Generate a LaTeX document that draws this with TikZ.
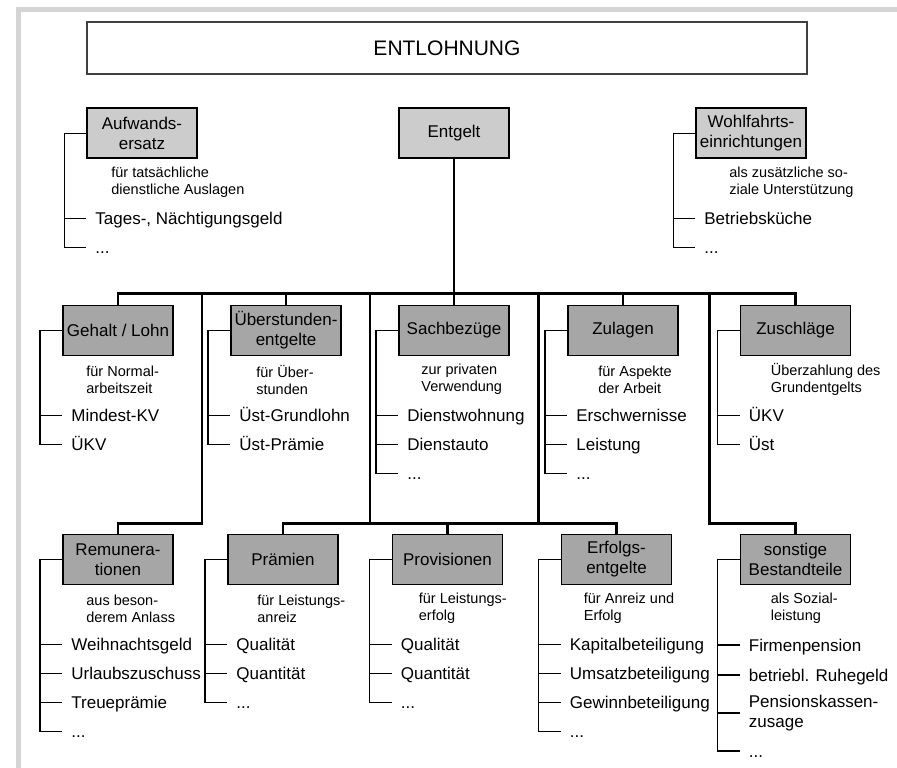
\documentclass[tikz,border=0pt]{standalone}
\usepackage{fontspec}
\setmainfont{Liberation Sans}
\usepackage{tikz}
\usetikzlibrary{calc,positioning}
\definecolor{framegray}{HTML}{D4D4D4}
\definecolor{titleline}{HTML}{404040}
\definecolor{lightbox}{HTML}{CCCCCC}
\definecolor{darkbox}{HTML}{A6A6A6}
% dots as one token, so that \foreach does not read them as a range
\newcommand{\pkt}{...}
% one branch: box, note below it, items hanging on a bracket
\newcommand{\zweig}[5][bracket]{%
  \node[note] (#2-note) at ($(#2.west)+(#3,49)$) {#4};
  \foreach \eintrag [count=\nr] in {#5}{
    \node[item] (#2-\nr) at ($(#2.west)+(0,56+29*\nr)$) {\eintrag};
    \draw[#1] (#2.west) -- ++(-22,0) |- (#2-\nr.west);
  }%
}

\begin{document}
\begin{tikzpicture}[x=1pt,y=-1pt,
  box/.style={draw=black,line width=1.6pt,minimum width=110pt,minimum height=50pt,
    inner sep=2pt,align=center,font=\fontsize{17}{20}\selectfont},
  topbox/.style={box,fill=lightbox},
  catbox/.style={box,fill=darkbox},
  titlebox/.style={draw=titleline,line width=1.2pt,fill=white,minimum width=720pt,
    minimum height=52pt,font=\fontsize{21}{24}\selectfont},
  note/.style={anchor=west,align=left,inner sep=0pt,font=\fontsize{14.5}{17}\selectfont},
  itemtext/.style={anchor=west,inner xsep=9pt,inner ysep=0pt,font=\fontsize{17}{20}\selectfont},
  item/.style={itemtext,text height=12.2pt,text depth=0pt},
  bus/.style={line width=2.8pt},
  bracket/.style={line width=1.5pt},
  thinbracket/.style={line width=1pt}]
  \fill[white] (0,0) rectangle (897,768);
  \useasboundingbox (0,0) rectangle (897,768);
  \fill[framegray] (16,7) rectangle (897,12);
  \fill[framegray] (16,7) rectangle (21,768);

  \node[titlebox] (titel) at (447,48) {ENTLOHNUNG};

  % top row
  \node[topbox] (aufw) at (142,133) {Aufwands-\\ersatz};
  \node[topbox] (entgelt) at (454,133) {Entgelt};
  \node[topbox] (wohl) at (751,133) {Wohlfahrts-\\einrichtungen};

  % categories
  \node[catbox] (gehalt) at (118,330.5) {Gehalt / Lohn};
  \node[catbox] (ueber) at (286,330.5) {Überstunden-\\entgelte};
  \node[catbox] (sach) at (454,330.5) {Sachbezüge};
  \node[catbox] (zul) at (623,330.5) {Zulagen};
  \node[catbox] (zuschl) at (795.5,330.5) {Zuschläge};
  \node[catbox] (remun) at (118,559.5) {Remunera-\\tionen};
  \node[catbox] (praem) at (283,559.5) {Prämien};
  \node[catbox] (prov) at (447.5,559.5) {Provisionen};
  \node[catbox] (erfolg) at (616.5,559.5) {Erfolgs-\\entgelte};
  \node[catbox] (sonst) at (795.5,559.5) {sonstige\\Bestandteile};

  % tree lines
  \draw[bus] (entgelt.south) -- (sach.north);
  \draw[bus] (gehalt.north) |- ($(zuschl.north)+(0,-11)$) -- (zuschl.north);
  \foreach \b in {ueber,zul}
    \draw[bus] (\b.north) -- ++(0,-11);
  \foreach \l/\r/\n in {gehalt/ueber/1,ueber/sach/2,sach/zul/3,zul/zuschl/4}
    \coordinate (d\n) at ($(\l.north east)!0.5!(\r.north west)+(0,-11)$);
  \draw[bus] (d1) -- ++(0,230) -| (remun.north);
  \draw[bus] (d2) -- ++(0,230);
  \draw[bus] (d3) -- ++(0,230);
  \draw[bus] (praem.north) -- ++(0,-10.5) -| (erfolg.north);
  \draw[bus] (prov.north) -- ++(0,-10.5);
  \draw[bus] (d4) -- ++(0,230) -| (sonst.north);

  % branches
  \zweig[thinbracket]{aufw}{25}{für tatsächliche\\dienstliche Auslagen}{{Tages-, Nächtigungsgeld},\pkt}
  \zweig[thinbracket]{wohl}{34}{als zusätzliche so-\\ziale Unterstützung}{Betriebsküche,\pkt}
  \zweig{gehalt}{24}{für Normal-\\arbeitszeit}{Mindest-KV,ÜKV}
  \zweig{ueber}{26}{für Über-\\stunden}{Üst-Grundlohn,Üst-Prämie}
  \zweig{sach}{23}{zur privaten\\Verwendung}{Dienstwohnung,Dienstauto,\pkt}
  \zweig{zul}{31}{für Aspekte\\der Arbeit}{Erschwernisse,Leistung,\pkt}
  \zweig{zuschl}{31}{Überzahlung des\\Grundentgelts}{ÜKV,Üst}
  \zweig{remun}{24}{aus beson-\\derem Anlass}{Weihnachtsgeld,Urlaubszuschuss,Treueprämie,\pkt}
  \zweig{praem}{30}{für Leistungs-\\anreiz}{Qualität,Quantität,\pkt}
  \zweig{prov}{27}{für Leistungs-\\erfolg}{Qualität,Quantität,\pkt}
  \zweig{erfolg}{23}{für Anreiz und\\Erfolg}{Kapitalbeteiligung,Umsatzbeteiligung,Gewinnbeteiligung,\pkt}

  % last branch has a two-line entry
  \node[note] (sonst-note) at ($(sonst.west)+(31,49)$) {als Sozial-\\leistung};
  \node[item] (sonst-1) at ($(sonst.west)+(0,85.5)$) {Firmenpension};
  \node[item] (sonst-2) at ($(sonst.west)+(0,115.5)$) {betriebl. Ruhegeld};
  \node[itemtext,align=left] (sonst-3) at ($(sonst.west)+(0,153.5)$) {Pensionskassen-\\zusage};
  \node[item] (sonst-4) at ($(sonst.west)+(0,191.5)$) {\pkt};
  \foreach \nr in {1,...,4}
    \draw[bracket] (sonst.west) -- ++(-22,0) |- (sonst-\nr.west);
\end{tikzpicture}
\end{document}
